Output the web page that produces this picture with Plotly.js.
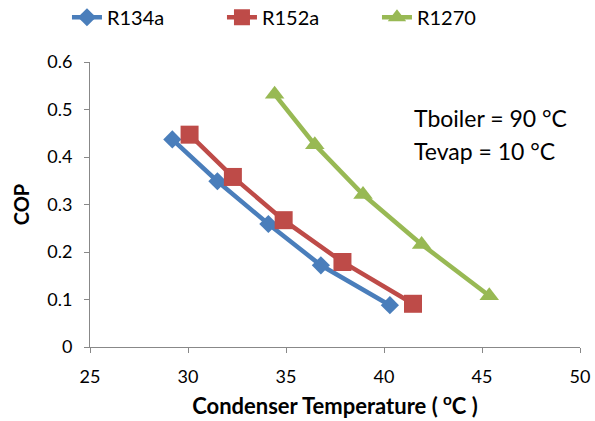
<!DOCTYPE html>
<html>
<head>
<meta charset="utf-8">
<script src="https://cdn.plot.ly/plotly-3.0.1.min.js"></script>
<style>html,body{margin:0;padding:0;background:#fff;}#chart{width:595px;height:421px;}</style>
</head>
<body>
<div id="chart"></div>
<script>
const seriesNames = ["R134a", "R152a", "R1270"];
const r134aT = [29.20, 31.50, 34.10, 36.78, 40.30];
const r134aCOP = [0.437, 0.349, 0.259, 0.172, 0.088];
const r152aT = [30.08, 32.29, 34.88, 37.88, 41.48];
const r152aCOP = [0.447, 0.358, 0.267, 0.179, 0.091];
const r1270T = [34.42, 36.47, 38.93, 41.92, 45.37];
const r1270COP = [0.532, 0.426, 0.321, 0.216, 0.108];
const xTicks = [25, 30, 35, 40, 45, 50];
const yTicks = [0, 0.1, 0.2, 0.3, 0.4, 0.5, 0.6];
const yTickText = ["0", "0.1", "0.2", "0.3", "0.4", "0.5", "0.6"];

const FONT = "Lato, 'Open Sans', sans-serif";
const traces = [
  {x: r134aT, y: r134aCOP, name: seriesNames[0], type: "scatter", mode: "lines+markers",
   line: {color: "#4A7EBB", width: 4.5}, marker: {symbol: "diamond", size: 14, color: "#4A7EBB"}},
  {x: r152aT, y: r152aCOP, name: seriesNames[1], type: "scatter", mode: "lines+markers",
   line: {color: "#BE4B48", width: 4.5}, marker: {symbol: "square", size: 18, color: "#BE4B48"}},
  {x: r1270T, y: r1270COP, name: seriesNames[2], type: "scatter", mode: "lines+markers",
   line: {color: "#98B954", width: 4.5}, marker: {symbol: "triangle-up", size: 17, color: "#98B954"}}
];
const layout = {
  width: 595, height: 421,
  margin: {l: 90, r: 15, t: 62, b: 74, autoexpand: false},
  paper_bgcolor: "#fff", plot_bgcolor: "#fff",
  font: {family: FONT, size: 18, color: "#000"},
  showlegend: true,
  legend: {orientation: "h", x: -0.047, xanchor: "left", y: 1.157, yanchor: "middle",
           font: {family: FONT, size: 20, color: "#000"}, entrywidth: 110, entrywidthmode: "pixels"},
  xaxis: {range: [25, 50], tickvals: xTicks, ticktext: xTicks.map(String), showgrid: false, zeroline: false,
          showline: true, linecolor: "#888", linewidth: 1, ticks: "outside", ticklen: 5, tickcolor: "#888",
          tickfont: {family: FONT, size: 18}, ticklabelstandoff: 8,
          title: {text: "<b>Condenser Temperature ( <sup>o</sup>C )</b>", font: {family: FONT, size: 22}, standoff: 13}},
  yaxis: {range: [0, 0.6], tickvals: yTicks, ticktext: yTickText, showgrid: false, zeroline: false,
          showline: true, linecolor: "#888", linewidth: 1, ticks: "outside", ticklen: 5, tickcolor: "#888",
          tickfont: {family: FONT, size: 18}, ticklabelstandoff: 8,
          title: {text: "<b>COP</b>", font: {family: FONT, size: 20}, standoff: 12}},
  annotations: [
    {xref: "paper", yref: "paper", x: 0.657, y: 0.805, xanchor: "left", yanchor: "middle", showarrow: false,
     text: "Tboiler = 90 °C", font: {family: FONT, size: 23, color: "#000"}},
    {xref: "paper", yref: "paper", x: 0.657, y: 0.689, xanchor: "left", yanchor: "middle", showarrow: false,
     text: "Tevap = 10 °C", font: {family: FONT, size: 23, color: "#000"}}
  ]
};
Plotly.newPlot("chart", traces, layout, {displayModeBar: false, staticPlot: true});
</script>
</body>
</html>
